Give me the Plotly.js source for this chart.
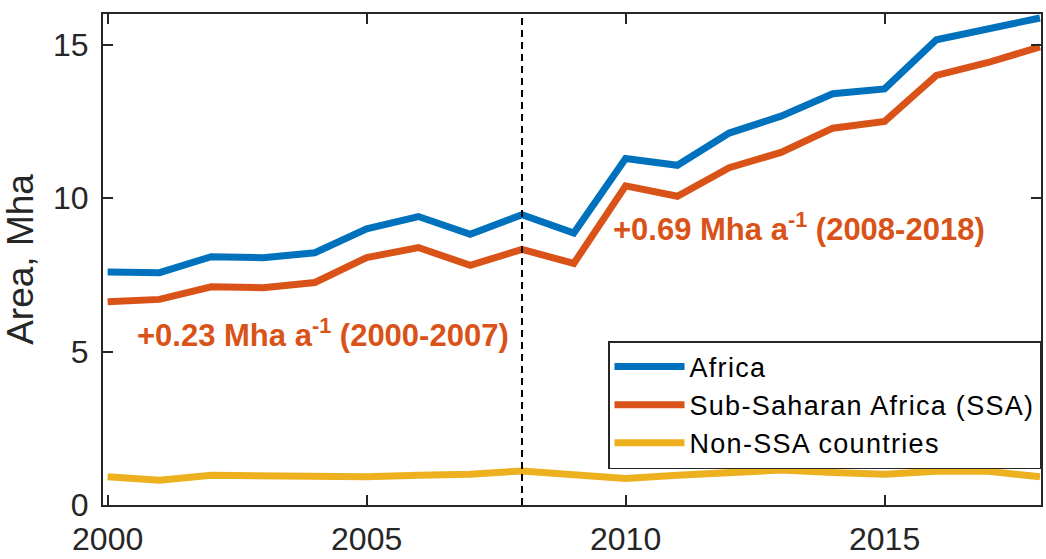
<!DOCTYPE html>
<html>
<head>
<meta charset="utf-8">
<script src="https://cdn.plot.ly/plotly-3.0.1.min.js"></script>
<style>html,body{margin:0;padding:0;background:#fff;} #chart{width:1046px;height:559px;}
.legendtext{letter-spacing:1.3px;}</style>
</head>
<body>
<div id="chart"></div>
<script>
const years = [2000,2001,2002,2003,2004,2005,2006,2007,2008,2009,2010,2011,2012,2013,2014,2015,2016,2017,2018];
const africa = [7.59,7.57,8.09,8.06,8.22,9.00,9.40,8.82,9.46,8.86,11.29,11.07,12.12,12.67,13.40,13.56,15.16,15.54,15.87];
const ssa    = [6.62,6.70,7.11,7.08,7.25,8.06,8.39,7.81,8.33,7.87,10.40,10.06,10.99,11.49,12.28,12.50,14.00,14.42,14.93];
const nonSSA = [0.92,0.81,0.97,0.95,0.94,0.92,0.97,1.00,1.11,0.97,0.86,0.97,1.06,1.14,1.06,1.00,1.10,1.10,0.92];
const seriesNames = ['Africa','Sub-Saharan Africa (SSA)','Non-SSA countries'];
const xTicks = [2000,2005,2010,2015];
const yTicks = [0,5,10,15];
const splitYear = 2008;
const trendLabels = ['+0.23 Mha a<sup>-1</sup> (2000-2007)','+0.69 Mha a<sup>-1</sup> (2008-2018)'];

const colors = ['#0072BD','#D95319','#EDB120'];
const FONT = 'Liberation Sans, Arial, Helvetica, sans-serif';
const axisCol = '#262626';

const traces = [africa, ssa, nonSSA].map((v,i)=>({
  x: years, y: v, type:'scatter', mode:'lines', name: seriesNames[i],
  line:{color:colors[i], width:7}
}));

const axisCommon = {
  showgrid:false, zeroline:false, showline:true, linewidth:2, linecolor:axisCol,
  mirror:'ticks', ticks:'inside', ticklen:10, tickwidth:2, tickcolor:axisCol,
  tickfont:{family:FONT, size:32, color:axisCol}
};

const layout = {
  width:1046, height:559,
  margin:{l:103, r:5, t:14, b:54},
  paper_bgcolor:'#fff', plot_bgcolor:'#fff',
  showlegend:true,
  xaxis: Object.assign({}, axisCommon, {range:[1999.91, 2018.02], tickvals:xTicks, ticktext:xTicks.map(String), ticklabelstandoff:5}),
  yaxis: Object.assign({}, axisCommon, {range:[0,16], tickvals:yTicks, ticktext:yTicks.map(String), ticklabelstandoff:6,
    title:{text:'Area, Mha', font:{family:FONT, size:37, color:axisCol}, standoff:8}}),
  legend:{x:1, y:0.334, xanchor:'right', yanchor:'top', bgcolor:'#fff', bordercolor:axisCol, borderwidth:1.5,
    font:{family:FONT, size:27, color:'#000'}, itemwidth:70, tracegroupgap:0},
  shapes:[{type:'line', xref:'x', yref:'paper', x0:splitYear, x1:splitYear, y0:0, y1:1,
    line:{color:'#000', width:2, dash:'7px,5px'}}],
  annotations:[
    {x:2000.53, y:5.6, xref:'x', yref:'y', xanchor:'left', yanchor:'middle', showarrow:false,
     text:trendLabels[0], font:{family:FONT, size:31, color:'#D95319', weight:'bold'}},
    {x:2009.72, y:9.05, xref:'x', yref:'y', xanchor:'left', yanchor:'middle', showarrow:false,
     text:trendLabels[1], font:{family:FONT, size:31, color:'#D95319', weight:'bold'}}
  ]
};

Plotly.newPlot('chart', traces, layout, {displayModeBar:false, staticPlot:true});
</script>
</body>
</html>
